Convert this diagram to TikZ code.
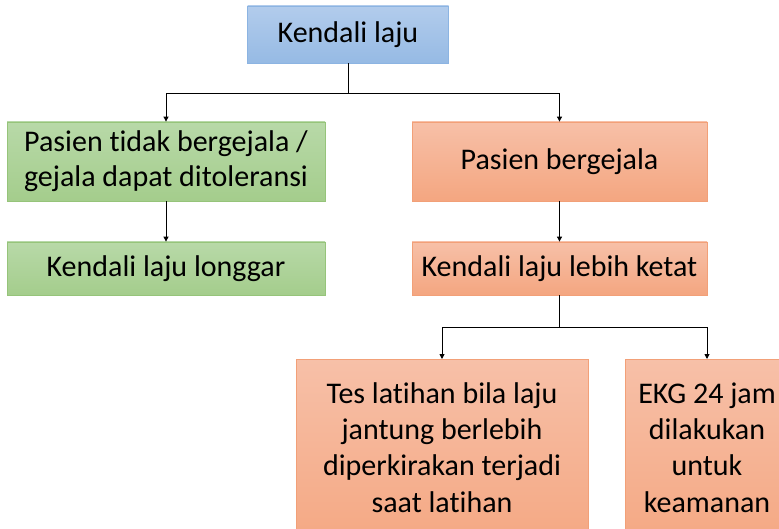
\documentclass[tikz,border=0pt]{standalone}
\usepackage{fontspec}
\setmainfont{Carlito}[Ligatures=NoCommon]
\usetikzlibrary{arrows.meta}
\definecolor{bluetop}{RGB}{178,204,236}
\definecolor{bluebot}{RGB}{150,186,228}
\definecolor{blueline}{RGB}{140,180,226}
\definecolor{greentop}{RGB}{184,217,168}
\definecolor{greenbot}{RGB}{164,205,140}
\definecolor{greenline}{RGB}{150,196,122}
\definecolor{orangetop}{RGB}{247,192,168}
\definecolor{orangebot}{RGB}{244,166,128}
\definecolor{orangeline}{RGB}{242,160,120}
\tikzset{
  box/.style={draw, line width=0.8pt, inner sep=0pt, align=center, font=\fontsize{30}{35}\selectfont},
  bluebox/.style={box, draw=blueline, top color=bluetop, bottom color=bluebot},
  greenbox/.style={box, draw=greenline, top color=greentop, bottom color=greenbot},
  orangebox/.style={box, draw=orangeline, top color=orangetop, bottom color=orangebot},
  btext/.style={align=center, inner sep=0pt, font=\fontsize{30}{36.3}\selectfont, anchor=base},
  conn/.style={line width=0.9pt, black},
  arr/.style={conn, -{Triangle[length=5pt,width=5pt]}}
}
\begin{document}
\begin{tikzpicture}[x=1pt,y=-1pt]
\useasboundingbox (0,0) rectangle (779,529);
\begin{scope}
\clip (0,0) rectangle (779,529);
\node[bluebox, minimum width=201pt, minimum height=57pt] (top) at (348,34.5) {Kendali laju};
\node[greenbox, minimum width=318pt, minimum height=79pt] (g1) at (166,161.5) {Pasien tidak bergejala /\\gejala dapat ditoleransi};
\node[greenbox, minimum width=318pt, minimum height=53pt] (g2) at (166,268.5) {Kendali laju longgar};
\node[orangebox, minimum width=295pt, minimum height=79pt] (o1) at (559.5,161.5) {Pasien bergejala};
\node[orangebox, minimum width=295pt, minimum height=53pt] (o2) at (559.5,268.5) {Kendali laju lebih ketat};
\node[orangebox, minimum width=292pt, minimum height=200pt, anchor=north] (b1) at (442,359) {};
\node[btext] (b1t) at (442,512) {Tes latihan bila laju\\jantung berlebih\\diperkirakan terjadi\\saat latihan};
\node[orangebox, minimum width=164pt, minimum height=200pt, anchor=north] (b2) at (707,359) {};
\node[btext] (b2t) at (707,512) {EKG 24 jam\\dilakukan\\untuk\\keamanan};
\end{scope}
\coordinate (j1) at (348,93);
\coordinate (j2) at (559.5,327);
\draw[conn] (top.south) -- (j1);
\draw[arr] (j1) -| (g1.north);
\draw[arr] (j1) -| (o1.north);
\draw[arr] (g1.south) -- (g2.north);
\draw[arr] (o1.south) -- (o2.north);
\draw[conn] (o2.south) -- (j2);
\draw[arr] (j2) -| (b1.north);
\draw[arr] (j2) -| (b2.north);
\end{tikzpicture}
\end{document}
